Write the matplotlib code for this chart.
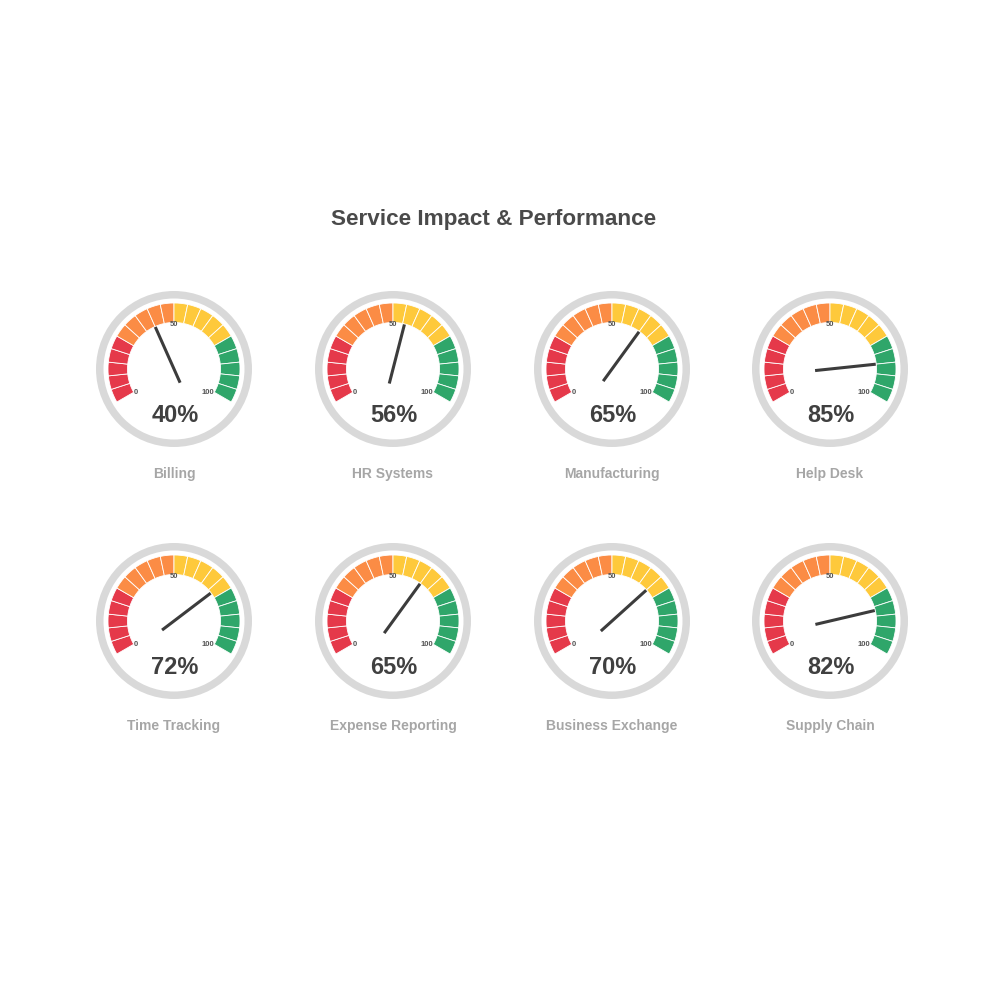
import numpy as np
import matplotlib
matplotlib.use("Agg")
import matplotlib.pyplot as plt
from matplotlib.patches import Wedge, Circle

plt.rcParams["font.family"] = ["Liberation Sans", "DejaVu Sans"]

names = ["Billing", "HR Systems", "Manufacturing", "Help Desk",
         "Time Tracking", "Expense Reporting", "Business Exchange", "Supply Chain"]
values = [40, 56, 65, 85, 72, 65, 70, 82]

band_colors = ["#e5394a", "#fb8c45", "#fec93b", "#2fa66a"]
seg_per_band = 5

col_x = [174, 393, 612, 830]
row_y = [369, 621]

fig = plt.figure(figsize=(10, 10), dpi=100)
ax = fig.add_axes([0, 0, 1, 1])
ax.set_xlim(0, 1000)
ax.set_ylim(1000, 0)
ax.set_aspect("equal")
ax.axis("off")

ax.text(494, 219, "Service Impact & Performance", ha="center", va="center",
        fontsize=16.2, fontweight="bold", color="#4a4a4a")


def ang(v):
    # 0 -> 210 deg, 100 -> -30 deg (math angles, y up)
    return 210 - 240 * v / 100.0


def draw_gauge(cx, cy, name, val):
    # y axis is flipped, so use negative angles for wedges
    ax.add_patch(Circle((cx, cy), 78, facecolor="#d9d9d9", edgecolor="none"))
    ax.add_patch(Circle((cx, cy), 70.5, facecolor="white", edgecolor="none"))
    nseg = seg_per_band * len(band_colors)
    for i in range(nseg):
        a0 = ang(100.0 * i / nseg)
        a1 = ang(100.0 * (i + 1) / nseg)
        col = band_colors[i // seg_per_band]
        ax.add_patch(Wedge((cx, cy), 66, -a0, -a1, width=19.5,
                           facecolor=col, edgecolor="white", linewidth=0.6))
    for lab, dx, dy in [("0", -38, 23), ("50", 0, -44), ("100", 34, 23)]:
        ax.text(cx + dx, cy + dy, lab, ha="center", va="center",
                fontsize=5.5, fontweight="bold", color="#555555")
    t = np.radians(ang(val))
    ux, uy = np.cos(t), -np.sin(t)
    ax.plot([cx - 15 * ux, cx + 46 * ux], [cy - 15 * uy, cy + 46 * uy],
            color="#3c3c3c", linewidth=2.2, solid_capstyle="butt")
    ax.text(cx + 1, cy + 47, f"{val}%", ha="center", va="center",
            fontsize=17, fontweight="bold", color="#404040")
    ax.text(cx, cy + 105, name, ha="center", va="center",
            fontsize=10, fontweight="bold", color="#a6a6a6")


for k, (name, val) in enumerate(zip(names, values)):
    r, c = divmod(k, 4)
    draw_gauge(col_x[c], row_y[r], name, val)

fig.savefig("out.png", dpi=100, facecolor="white")
